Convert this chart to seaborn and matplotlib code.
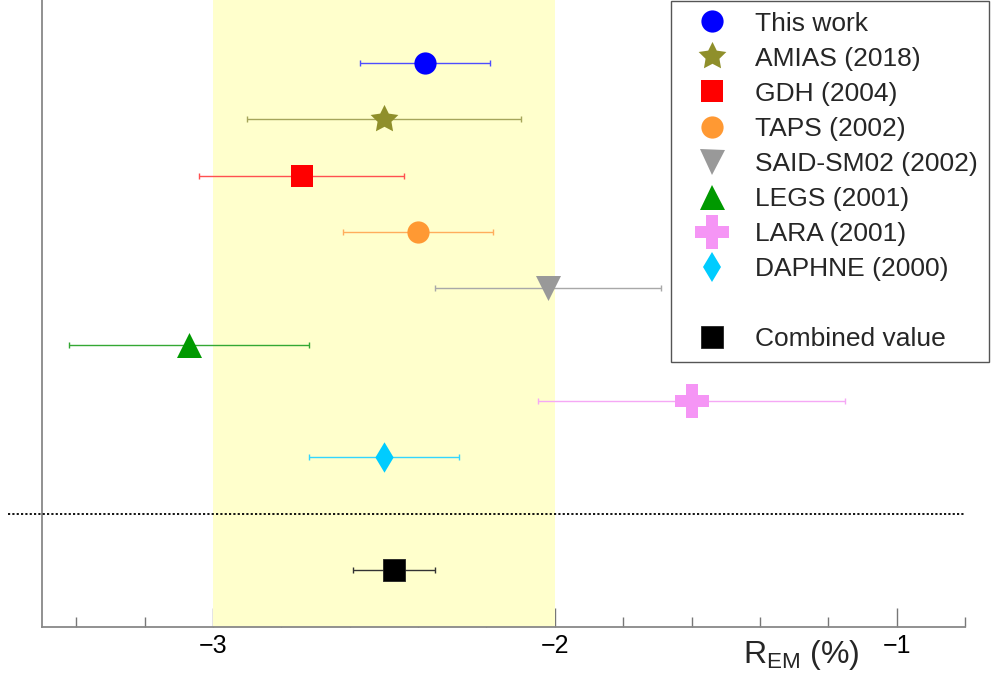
import matplotlib
matplotlib.use("Agg")
import matplotlib.pyplot as plt
from matplotlib.lines import Line2D
from matplotlib.path import Path
from matplotlib.ticker import MultipleLocator, FixedLocator
import seaborn as sns
import pandas as pd

# Measurements of R_EM (%) with their uncertainties
labels = ["This work", "AMIAS (2018)", "GDH (2004)", "TAPS (2002)",
          "SAID-SM02 (2002)", "LEGS (2001)", "LARA (2001)", "DAPHNE (2000)"]
values = [-2.38, -2.50, -2.74, -2.40, -2.02, -3.07, -1.60, -2.50]
errors = [0.19, 0.40, 0.30, 0.22, 0.33, 0.35, 0.45, 0.22]

combined_label = "Combined value"
combined_value = -2.47
combined_error = 0.12

# Range of values covered by the shaded band
band_range = (-3.0, -2.0)

# A chunkier five-pointed star
fat_star = Path.unit_regular_star(5, 0.5)

# Marker styles for each entry: (marker, size in pt, face colour, bar colour)
styles = {
    "This work": ("o", 16, "#0000ff", "#4d4dff"),
    "AMIAS (2018)": (fat_star, 21, "#8f8f2b", "#a5a55a"),
    "GDH (2004)": ("s", 15.5, "#ff0000", "#ff5050"),
    "TAPS (2002)": ("o", 16, "#ff9933", "#ffad5c"),
    "SAID-SM02 (2002)": ("v", 18, "#999999", "#a8a8a8"),
    "LEGS (2001)": ("^", 18, "#009900", "#33a833"),
    "LARA (2001)": ("P", 24, "#f595f5", "#f5a8f5"),
    "DAPHNE (2000)": ("d", 15.5, "#00ccff", "#33d6ff"),
    "Combined value": ("s", 15.5, "#000000", "#333333"),
}

df = pd.DataFrame({"label": labels + [combined_label],
                   "value": values + [combined_value],
                   "error": errors + [combined_error]})
# Stack the entries from top to bottom, leaving one empty row above the combined value
n = len(labels)
df["ypos"] = [n + 1 - i for i in range(n)] + [0]

sns.set_theme(style="white")
plt.rcParams["font.family"] = ["Liberation Sans", "DejaVu Sans"]
plt.rcParams["mathtext.fontset"] = "custom"
plt.rcParams["mathtext.rm"] = "Liberation Sans"
plt.rcParams["mathtext.it"] = "Liberation Sans"

fig = plt.figure(figsize=(9.92, 6.77), dpi=100)
ax = fig.add_axes([42 / 992, 1 - 627 / 677, (965 - 42) / 992, 627 / 677])
ax.set_axisbelow(True)

ax.axvspan(*band_range, color="#ffffcc", lw=0, zorder=1)

for _, row in df.iterrows():
    marker, ms, face, bar = styles[row["label"]]
    ax.errorbar(row["value"], row["ypos"], xerr=row["error"], fmt="none",
                ecolor=bar, elinewidth=1.0, capsize=2, capthick=1.0, zorder=3)
    sns.scatterplot(x=[row["value"]], y=[row["ypos"]], marker=marker, s=ms ** 2,
                    color=face, edgecolor=("#222222" if face == "#000000" else face),
                    linewidth=0.6 if face == "#000000" else 0, ax=ax, zorder=4,
                    legend=False)

# Separator between the individual results and the combined value
ax.axhline(1, xmin=(8 - 42) / 923, xmax=1.0, color="black", ls=(0, (1.2, 1.2)),
           lw=1.3, clip_on=False, zorder=5)

ax.set_xlim(-3.5, -0.8)
ax.set_ylim(-1.01, 10.12)
ax.xaxis.set_major_locator(FixedLocator([-3, -2, -1]))
ax.xaxis.set_minor_locator(MultipleLocator(0.2))
ax.set_yticks([])
ax.tick_params(axis="x", which="both", bottom=True, top=False)
ax.tick_params(axis="x", which="major", direction="in", length=13.5, width=1,
               color="#777777", labelsize=18, pad=5, labelcolor="black")
ax.tick_params(axis="x", which="minor", direction="in", length=7, width=1,
               color="#777777")

for side in ["top", "right"]:
    ax.spines[side].set_visible(False)
for side in ["left", "bottom"]:
    ax.spines[side].set_color("#888888")
    ax.spines[side].set_linewidth(1.3)

ax.set_xlabel(r"R$_{\mathrm{EM}}$ (%)", fontsize=23)
ax.xaxis.set_label_coords(0.823, -0.018)

handles = []
legend_labels = []
for lab in labels:
    marker, ms, face, bar = styles[lab]
    handles.append(Line2D([], [], ls="none", marker=marker, markersize=ms,
                          markerfacecolor=face, markeredgewidth=0))
    legend_labels.append(lab)
handles.append(Line2D([], [], ls="none"))
legend_labels.append(" ")
marker, ms, face, bar = styles[combined_label]
handles.append(Line2D([], [], ls="none", marker=marker, markersize=ms,
                      markerfacecolor=face, markeredgecolor="#222222",
                      markeredgewidth=0.6))
legend_labels.append(combined_label)

leg = fig.legend(handles, legend_labels, loc="upper left",
                 bbox_to_anchor=(671 / 992, 1 - 1 / 677), borderaxespad=0,
                 fontsize=19, frameon=True, fancybox=False, shadow=False,
                 framealpha=1, edgecolor="#555555", borderpad=0.4,
                 handlelength=2.3, handletextpad=0.5, labelspacing=0.42)
leg.get_frame().set_linewidth(1.0)

fig.savefig("out.png", dpi=100)
